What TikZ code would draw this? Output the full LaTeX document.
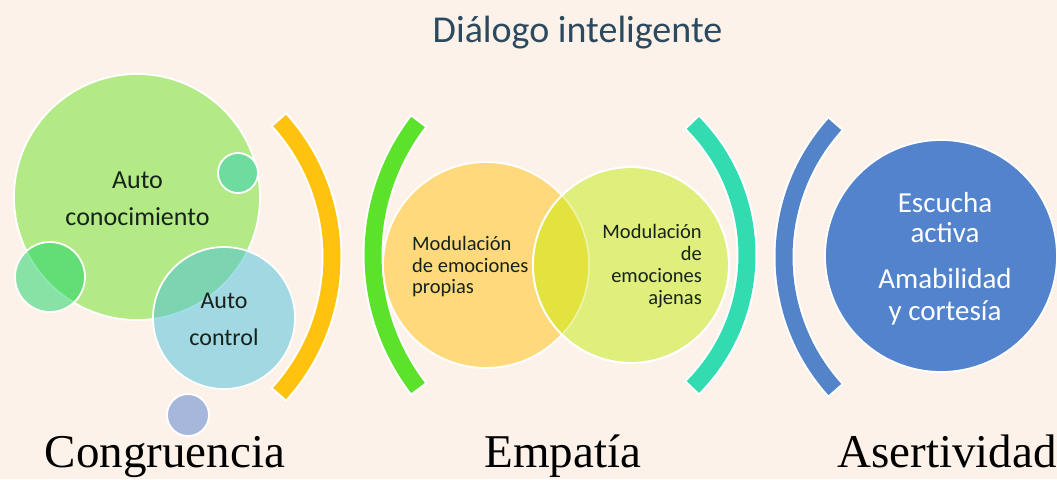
\documentclass[tikz,border=0pt]{standalone}
\usepackage{fontspec}
\setmainfont{Liberation Serif}
\newfontfamily\carl{Carlito}
\definecolor{bgc}{HTML}{FDF2EA}
\definecolor{titlec}{HTML}{2B4A5F}
\definecolor{bigg}{HTML}{B3EA86}
\definecolor{smtr}{HTML}{6EDC9E}
\definecolor{leftc}{RGB}{20,212,100}
\definecolor{ctrlc}{RGB}{71,192,219}
\definecolor{smbl}{HTML}{A7B7DC}
\definecolor{orc}{HTML}{FFD97B}
\definecolor{ygc}{HTML}{E0EF7C}
\definecolor{lensc}{HTML}{E2E33E}
\definecolor{bluec}{HTML}{5283CC}
\definecolor{arcy}{HTML}{FFC20E}
\definecolor{arcg}{HTML}{5DE22B}
\definecolor{arct}{HTML}{33DCB0}
\definecolor{arcb}{HTML}{5384C9}
\definecolor{txtc}{HTML}{16221A}
\tikzset{
  bub/.style={circle, inner sep=0pt, draw=white, line width=1.8pt},
  lbl/.style={anchor=base, inner sep=0pt, font=\fontsize{47}{50}\selectfont, text=black},
  ctext/.style={anchor=base, inner sep=0pt, text=txtc},
  arcwhite/.style={draw=white, line width=21pt, line cap=butt},
}
\begin{document}
\begin{tikzpicture}[x=1pt,y=-1pt]
\fill[bgc] (0,0) rectangle (1057,479);
\useasboundingbox (0,0) rectangle (1057,479);

% title
\node[anchor=base, inner sep=0pt, text=titlec, font=\carl\fontsize{38}{40}\selectfont] (title) at (577.5,42) {Diálogo inteligente};

% ---- Congruencia group
\node[bub, fill=bigg, minimum size=246pt] (ak) at (137,197) {};
\node[bub, fill=smtr, minimum size=40pt] (sm1) at (238,173) {};
\node[bub, fill=leftc, fill opacity=0.5, minimum size=70pt] (lc) at (50,277) {};
\node[bub, fill=ctrlc, fill opacity=0.5, minimum size=142pt] (ac) at (224,318) {};
\node[bub, fill=smbl, minimum size=42pt] (sm2) at (188,415) {};

\node[ctext, font=\carl\fontsize{26}{30}\selectfont] (t1) at (137.5,188) {Auto};
\node[ctext, font=\carl\fontsize{26}{30}\selectfont] (t2) at (137.5,225) {conocimiento};
\node[ctext, font=\carl\fontsize{24}{28}\selectfont] (t3) at (224,308) {Auto};
\node[ctext, font=\carl\fontsize{24}{28}\selectfont] (t4) at (224,345) {control};

% yellow arc
\coordinate (cY) at (128,257);
\draw[arcwhite] ([shift={(-42.6:204pt)}]cY) arc[start angle=-42.6, end angle=42.6, radius=204pt];
\draw[draw=arcy, line width=17pt] ([shift={(-42:204pt)}]cY) arc[start angle=-42, end angle=42, radius=204pt];

% green arc
\coordinate (cG) at (592,255);
\draw[arcwhite] ([shift={(142:219pt)}]cG) arc[start angle=142, end angle=218, radius=219pt];
\draw[draw=arcg, line width=17pt] ([shift={(142.6:219pt)}]cG) arc[start angle=142.6, end angle=217.4, radius=219pt];

% ---- Empatia group
\node[bub, fill=orc, minimum size=206pt] (mo) at (486,265) {};
\node[bub, fill=ygc, minimum size=196pt] (ma) at (631,265) {};
\begin{scope}
  \clip (486,265) circle[radius=103pt];
  \fill[lensc] (631,265) circle[radius=98pt];
\end{scope}
\draw[white, line width=1.8pt] (631,265) circle[radius=98pt];
\draw[white, opacity=0.5, line width=1.5pt] (486,265) circle[radius=103pt];

\node[ctext, anchor=base west, font=\carl\fontsize{20.5}{22}\selectfont] (p1) at (412,250) {Modulación};
\node[ctext, anchor=base west, font=\carl\fontsize{20.5}{22}\selectfont] (p2) at (412,272) {de emociones};
\node[ctext, anchor=base west, font=\carl\fontsize{20.5}{22}\selectfont] (p3) at (412,293) {propias};
\node[ctext, anchor=base east, font=\carl\fontsize{20.5}{22}\selectfont] (q1) at (702,238) {Modulación};
\node[ctext, anchor=base east, font=\carl\fontsize{20.5}{22}\selectfont] (q2) at (702,260) {de};
\node[ctext, anchor=base east, font=\carl\fontsize{20.5}{22}\selectfont] (q3) at (702,282) {emociones};
\node[ctext, anchor=base east, font=\carl\fontsize{20.5}{22}\selectfont] (q4) at (702,304) {ajenas};

% teal arc
\coordinate (cT) at (559,255);
\draw[arcwhite] ([shift={(-45.2:188pt)}]cT) arc[start angle=-45.2, end angle=45.2, radius=188pt];
\draw[draw=arct, line width=17pt] ([shift={(-44.6:188pt)}]cT) arc[start angle=-44.6, end angle=44.6, radius=188pt];

% blue arc
\coordinate (cB) at (982,257);
\draw[arcwhite] ([shift={(137.4:198pt)}]cB) arc[start angle=137.4, end angle=222.6, radius=198pt];
\draw[draw=arcb, line width=17pt] ([shift={(138:198pt)}]cB) arc[start angle=138, end angle=222, radius=198pt];

% ---- Asertividad group
\node[bub, fill=bluec, minimum size=232pt] (bc) at (941,256) {};
\node[anchor=base, inner sep=0pt, text=white, font=\carl\fontsize{29}{32}\selectfont] (b1) at (945,212) {Escucha};
\node[anchor=base, inner sep=0pt, text=white, font=\carl\fontsize{29}{32}\selectfont] (b2) at (945,242) {activa};
\node[anchor=base, inner sep=0pt, text=white, font=\carl\fontsize{29}{32}\selectfont] (b3) at (945,288) {Amabilidad};
\node[anchor=base, inner sep=0pt, text=white, font=\carl\fontsize{29}{32}\selectfont] (b4) at (945,320) {y cortesía};

% labels
\node[lbl] (l1) at (165,467) {Congruencia};
\node[lbl] (l2) at (563,467) {Empatía};
\node[lbl] (l3) at (947,467) {Asertividad};
\end{tikzpicture}
\end{document}
